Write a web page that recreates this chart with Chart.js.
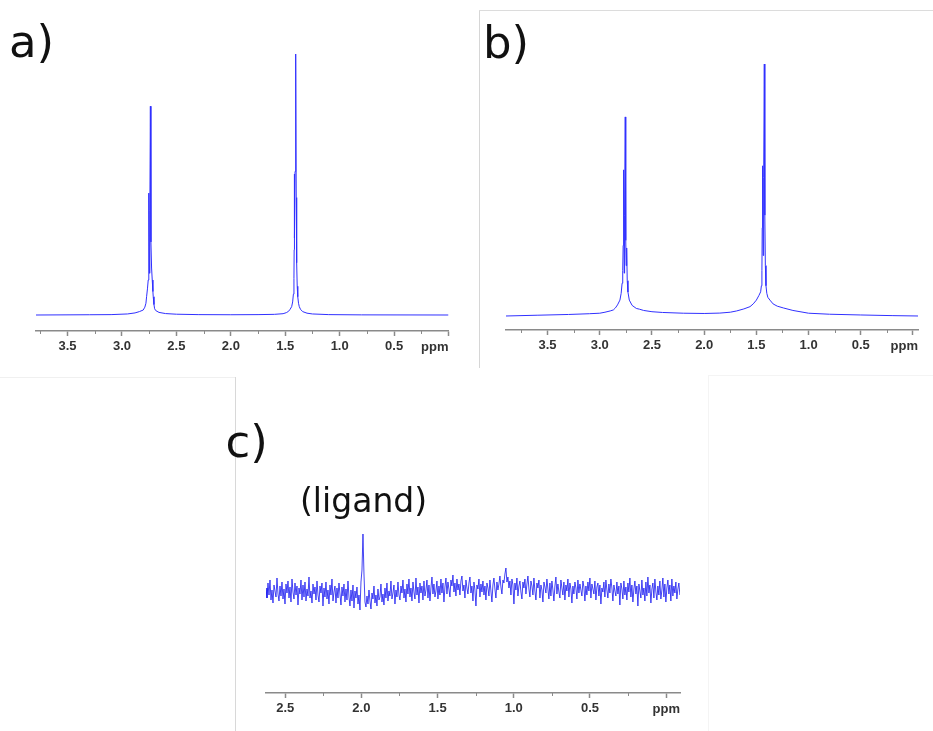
<!DOCTYPE html>
<html><head><meta charset="utf-8">
<script src="https://cdn.jsdelivr.net/npm/chart.js@4.4.1/dist/chart.umd.min.js"></script>
<style>
html,body{margin:0;padding:0;background:#fff;}
body{width:933px;height:731px;position:relative;overflow:hidden;}
canvas{position:absolute;}
.ln{position:absolute;}
</style></head><body>
<div class="ln" style="left:479px;top:10px;width:1px;height:358px;background:#d6d6d6"></div>
<div class="ln" style="left:479px;top:10px;width:454px;height:1px;background:#dcdcdc"></div>
<div class="ln" style="left:235px;top:377px;width:1px;height:354px;background:#d8d8d8"></div>
<div class="ln" style="left:0;top:377px;width:235px;height:1px;background:#f0f0f0"></div>
<div class="ln" style="left:708px;top:375px;width:1px;height:356px;background:#f4f4f4"></div>
<div class="ln" style="left:708px;top:375px;width:225px;height:1px;background:#f4f4f4"></div>
<canvas id="ca" width="470" height="375" style="left:0;top:0"></canvas>
<canvas id="cb" width="463" height="375" style="left:470px;top:0"></canvas>
<canvas id="cc" width="520" height="353" style="left:200px;top:378px"></canvas>
<script>
// ---- Panel a: chemical shift (ppm) and intensity (tallest = 100) ----
const aPpm = [3.79,3.3,3.1,2.95,2.88,2.84,2.805,2.79,2.78,2.774,2.766,2.759,2.755,2.752,2.748,2.744,2.739,2.734,2.728,2.722,2.716,2.713,2.706,2.70,2.69,2.66,2.6,2.5,2.3,2.0,1.75,1.6,
  1.52,1.49,1.47,1.455,1.441,1.432,1.425,1.42,1.418,1.417,1.414,1.41,1.404,1.399,1.395,1.39,1.385,1.378,1.371,1.36,1.34,1.3,1.25,1.1,0.8,0];
const aInt = [0,0.1,0.15,0.4,0.8,1.3,1.9,3,4.5,7,10,13.4,25,46.7,16,40,80,28,18,13.4,9,7,4,2.4,1.7,1.0,0.55,0.3,0.15,0.1,0.15,0.25,
  0.5,0.9,1.4,2.2,3.2,5,8,14,25,54,29.5,55,100,45,20,11,7,4.5,3.2,2.2,1.3,0.7,0.4,0.15,0.05,0];

// ---- Panel b ----
const bPpm = [3.898,3.6,3.3,3.1,3.0,2.95,2.90,2.87,2.85,2.83,2.807,2.795,2.786,2.78,2.776,2.772,2.770,2.766,2.762,2.756,2.751,2.747,2.742,2.737,2.73,2.717,2.69,2.65,2.62,2.58,2.5,2.4,2.2,2.0,1.85,1.75,1.689,1.62,1.561,1.53,1.50,1.475,1.459,1.452,1.447,1.444,1.440,1.435,1.430,1.424,1.419,1.414,1.408,1.40,1.39,1.37,1.34,1.30,1.242,1.15,1.0,0.8,0.5,0.2,-0.048];
const bInt = [0,0.3,0.6,0.9,1.1,1.5,2.0,2.4,3.2,4.4,6.3,9,13,18,28,45,58,17,40,79,30,20,27,14,9.5,6.3,4.2,3.0,2.7,2.2,1.7,1.4,1.1,1.0,1.15,1.5,2.0,2.8,3.7,4.8,6.3,8.2,9.6,12,18,35,59.6,24,55,100,40,20,12,9,7.4,6.3,4.8,3.9,3.2,2.2,1.1,0.7,0.4,0.15,0];

// ---- Panel c: sampled spectrum, first point at C_START ppm, spacing C_STEP ppm ----
const C_START = 2.626, C_STEP = 0.00656;
const cInt = [
 4,-6,9,-3,12,-8,2,-11,7,1,-5,14,-2,-9,6,-4,10,-7,3,-12,
 8,-1,11,-6,5,-10,13,0,-7,9,-3,6,-13,4,-2,12,-8,7,-5,10,
 -9,3,-4,15,-6,1,-11,8,-2,5,-8,11,-3,-10,6,-1,9,-14,4,-5,
 10,-7,2,-12,7,-3,13,-9,0,6,-11,4,-6,9,-2,-13,5,-4,8,-10,
 3,-8,11,-5,-14,2,-9,7,-16,1,-6,5,-12,-3,-18,10,22,58,18,-10,
 -15,-4,-12,2,-9,-17,-1,-7,6,-11,-3,-14,3,-8,-5,8,-10,-2,-13,4,
 -6,9,-9,1,-4,11,-7,-1,7,-12,2,-5,10,-3,-8,6,-1,12,-6,3,
 -10,8,-2,13,-5,4,-9,10,0,-7,14,-3,5,-11,9,-1,6,-8,11,-4,
 2,12,-6,7,-9,4,15,-2,8,-5,1,11,-7,6,-3,13,-1,9,-10,5,
 14,-2,10,3,-5,12,6,17,0,9,-4,13,2,8,-3,11,16,1,7,-6,
 12,4,-2,9,15,-1,6,-9,10,2,-14,7,3,13,-5,8,0,11,-3,6,
 -8,9,4,-4,12,1,-10,7,14,3,-6,10,2,8,16,5,-2,12,9,18,
 24,10,15,4,11,-3,13,7,-12,9,2,14,-4,6,11,0,-7,10,4,13,
 -2,8,16,3,-5,11,6,-3,14,1,-8,9,4,12,-6,7,2,-10,10,5,
 -1,13,3,-7,9,-4,11,2,-9,6,15,-2,8,0,-6,12,4,-3,10,-8,
 7,1,13,-5,9,3,-11,6,-2,10,4,-7,12,-1,8,2,-4,11,5,-9,
 6,-3,10,1,14,-6,8,3,-2,11,-8,5,9,-4,7,-12,4,0,10,-5,
 12,2,-6,8,-1,13,4,-9,7,1,-4,10,-2,6,-13,9,3,-7,11,-3,
 5,-8,9,0,14,-5,7,-10,3,11,-2,6,-14,8,1,-6,12,-3,4,-9,
 10,-4,15,-1,7,-11,3,9,-6,13,0,-8,6,-3,11,-7,2,14,-5,8,
 -10,4,12,-2,7,-9,13,-4,6,-1,10,-7,3,9,-3];
const cPpm = cInt.map((_, i) => C_START - i * C_STEP);

const AXIS = '#8a8a8a';
const TICKFONT = '"Liberation Sans", Arial, Helvetica, sans-serif';
function isMajor(v){ return Math.abs(v*2 - Math.round(v*2)) < 1e-6; }
function tickLabel(v){ const r = Math.round(v*4); if (r % 2 !== 0 || r === 0) return ''; return (r/4).toFixed(1); }

function deco(o){
  return {id:'deco', afterDraw(chart){
    const ctx = chart.ctx, s = chart.scales.x, a = chart.chartArea;
    ctx.save();
    ctx.strokeStyle = AXIS; ctx.lineWidth = 1;
    s.ticks.forEach(t => {
      if (!isMajor(t.value)) {
        const x = Math.round(s.getPixelForValue(t.value)) + 0.5;
        ctx.beginPath(); ctx.moveTo(x, a.bottom); ctx.lineTo(x, a.bottom + 3); ctx.stroke();
      }
    });
    ctx.fillStyle = '#333'; ctx.font = 'bold 13px ' + TICKFONT;
    ctx.textAlign = 'right'; ctx.textBaseline = 'middle';
    ctx.fillText('ppm', a.right, a.bottom + 16.5);
    ctx.fillStyle = '#111'; ctx.textAlign = 'left'; ctx.textBaseline = 'alphabetic';
    o.texts.forEach(t => { ctx.font = t.size + 'px "DejaVu Sans", Verdana, sans-serif'; ctx.fillText(t.s, t.x, t.y); });
    ctx.restore();
  }};
}

function panel(id, o){
  const data = o.ppm.map((p, i) => ({x: p, y: o.val[i]}));
  return new Chart(document.getElementById(id), {
    type: 'line',
    data: {datasets: [{data, borderColor: o.color, borderWidth: 1, pointRadius: 0, tension: 0, fill: false}]},
    options: {
      responsive: false, animation: false, events: [],
      layout: {padding: o.pad},
      plugins: {legend: {display: false}, tooltip: {enabled: false}},
      scales: {
        x: {type: 'linear', reverse: true, min: o.xmin, max: o.xmax,
          afterFit: s => { s.height = 30; },
          border: {display: true, color: AXIS, width: 1.5},
          grid: {display: true, drawOnChartArea: false, drawTicks: true, tickLength: 5, tickWidth: 1.5,
            tickColor: c => (c.tick && !isMajor(c.tick.value)) ? 'rgba(0,0,0,0)' : AXIS},
          ticks: {stepSize: 0.25, includeBounds: false, autoSkip: false, maxRotation: 0, minRotation: 0, padding: 3,
            color: '#333', font: {family: TICKFONT, weight: 'bold', size: 13}, callback: v => tickLabel(v)}},
        y: {display: false, min: o.ymin, max: o.ymax}
      }
    },
    plugins: [deco(o)]
  });
}

panel('ca', {ppm: aPpm, val: aInt, color: '#3030ff', xmin: 0, xmax: 3.79, ymin: -6.13, ymax: 109.2,
  pad: {left: 36, right: 21.5, top: 30, bottom: 14}, texts: [{s: 'a)', size: 45, x: 9, y: 57}]});
panel('cb', {ppm: bPpm, val: bInt, color: '#3030ff', xmin: -0.048, xmax: 3.898, ymin: -5.56, ymax: 113.5,
  pad: {left: 36, right: 15, top: 30, bottom: 15}, texts: [{s: 'b)', size: 45, x: 13, y: 58}]});
panel('cc', {ppm: cPpm, val: cInt, color: 'rgba(25,25,240,0.8)', xmin: -0.0906, xmax: 2.626, ymin: -101, ymax: 92,
  pad: {left: 66, right: 40, top: 122, bottom: 8},
  texts: [{s: 'c)', size: 45, x: 25.5, y: 79}, {s: '(ligand)', size: 33, x: 100, y: 134}]});
</script>
</body></html>
